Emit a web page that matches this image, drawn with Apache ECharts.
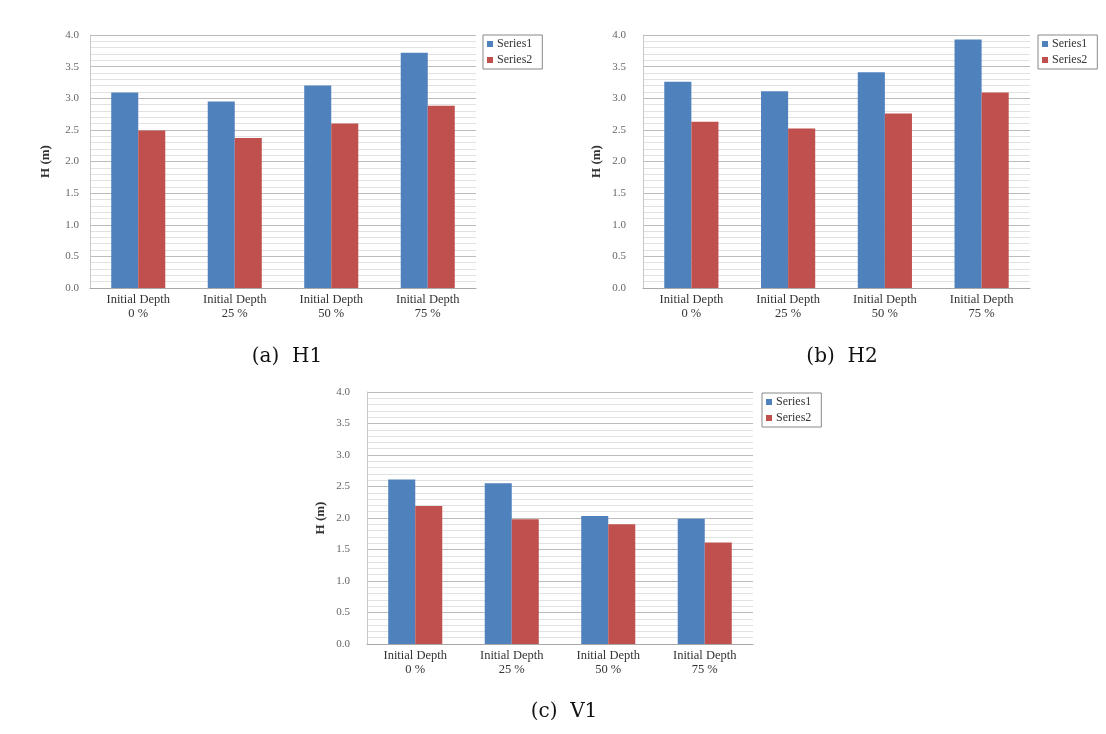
<!DOCTYPE html>
<html>
<head>
<meta charset="utf-8">
<script src="https://cdn.jsdelivr.net/npm/echarts@6/dist/echarts.min.js"></script>
<style>
html,body{margin:0;padding:0;background:#fff;}
#chart{width:1106px;height:734px;}
</style>
</head>
<body>
<div id="chart"></div>
<script>
// ---- data ----
var categories = ['Initial Depth\n0 %', 'Initial Depth\n25 %', 'Initial Depth\n50 %', 'Initial Depth\n75 %'];
var seriesNames = ['Series1', 'Series2'];
var h1Series1 = [3.09, 2.95, 3.20, 3.72];
var h1Series2 = [2.49, 2.37, 2.60, 2.88];
var h2Series1 = [3.26, 3.11, 3.41, 3.93];
var h2Series2 = [2.63, 2.52, 2.76, 3.09];
var v1Series1 = [2.61, 2.55, 2.03, 1.99];
var v1Series2 = [2.19, 1.98, 1.90, 1.61];
var yMin = 0, yMax = 4, yStep = 0.5;
var yAxisName = 'H (m)';
var captions = ['(a)  H1', '(b)  H2', '(c)  V1'];

// ---- layout / style ----
var BLUE = '#4F81BD', RED = '#C0504D';
var SERIF = '"Liberation Serif", "DejaVu Serif", serif';
var panels = [
  {grid:{left:90, top:35, width:386, height:253}, legend:{left:483, top:35}, labelMargin:11, nameGap:38, caption:{x:287, y:357}, s1:h1Series1, s2:h1Series2},
  {grid:{left:643, top:35, width:387, height:253}, legend:{left:1038, top:35}, labelMargin:17, nameGap:40, caption:{x:842, y:357}, s1:h2Series1, s2:h2Series2},
  {grid:{left:367, top:392, width:386, height:252}, legend:{left:762, top:393}, labelMargin:17, nameGap:40, caption:{x:564, y:712}, s1:v1Series1, s2:v1Series2}
];

var option = {
  animation: false,
  backgroundColor: '#fff',
  grid: [], xAxis: [], yAxis: [], legend: [], series: [], graphic: []
};

panels.forEach(function(p, i){
  option.grid.push(Object.assign({containLabel:false}, p.grid));
  option.xAxis.push({
    type:'category', gridIndex:i, data:categories,
    axisTick:{show:false},
    axisLine:{show:true, lineStyle:{color:'#a8a8a8', width:1}},
    axisLabel:{fontFamily:SERIF, fontSize:12.5, color:'#333', lineHeight:14, margin:5, interval:0},
    splitLine:{show:false}
  });
  option.yAxis.push({
    type:'value', gridIndex:i, min:yMin, max:yMax, interval:yStep,
    name:yAxisName, nameLocation:'middle', nameRotate:90, nameGap:p.nameGap,
    nameTextStyle:{fontFamily:SERIF, fontSize:13, fontWeight:'bold', color:'#333'},
    axisTick:{show:false},
    axisLine:{show:true, lineStyle:{color:'#c8c8c8', width:1}},
    axisLabel:{fontFamily:SERIF, fontSize:11, color:'#666', margin:p.labelMargin,
      formatter:function(v){return v.toFixed(1);}},
    splitLine:{show:true, lineStyle:{color:'#bcbcbc', width:1}},
    minorTick:{show:false, splitNumber:5},
    minorSplitLine:{show:true, lineStyle:{color:'#e2e2e2', width:1}}
  });
  option.legend.push({
    left:p.legend.left, top:p.legend.top, orient:'vertical',
    data:seriesNames, icon:'rect', itemWidth:6, itemHeight:6, itemGap:4,
    borderColor:'#888', borderWidth:1, borderRadius:0, padding:[3,10,3,4],
    selectedMode:false,
    textStyle:{fontFamily:SERIF, fontSize:12, color:'#333', padding:[0,0,0,-1]}
  });
  option.series.push({
    name:seriesNames[0], type:'bar', xAxisIndex:i, yAxisIndex:i, data:p.s1,
    itemStyle:{color:BLUE}, barGap:'0%', barCategoryGap:'44%'
  });
  option.series.push({
    name:seriesNames[1], type:'bar', xAxisIndex:i, yAxisIndex:i, data:p.s2,
    itemStyle:{color:RED}, barGap:'0%', barCategoryGap:'44%'
  });
  option.graphic.push({
    type:'text', x:p.caption.x, y:p.caption.y,
    style:{text:captions[i], fontFamily:'"DejaVu Serif", serif', fontSize:20, fill:'#111',
      textAlign:'center', textVerticalAlign:'middle'}
  });
});

var chart = echarts.init(document.getElementById('chart'), null, {renderer:'canvas'});
chart.setOption(option);
</script>
</body>
</html>
